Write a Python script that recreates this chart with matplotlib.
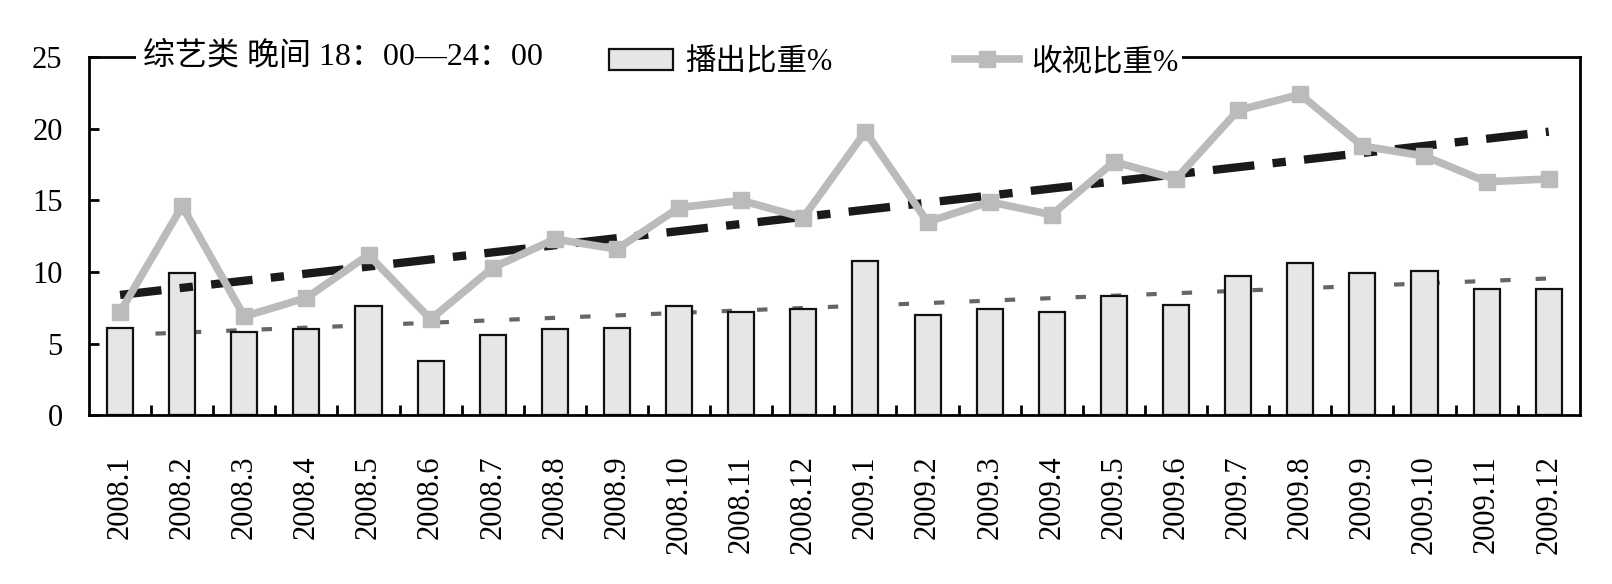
import matplotlib
matplotlib.use("Agg")
import matplotlib.pyplot as plt
import numpy as np

plt.rcParams['font.family'] = ['Liberation Serif', 'Noto Sans CJK SC']

months = ["2008.1", "2008.2", "2008.3", "2008.4", "2008.5", "2008.6",
          "2008.7", "2008.8", "2008.9", "2008.10", "2008.11", "2008.12",
          "2009.1", "2009.2", "2009.3", "2009.4", "2009.5", "2009.6",
          "2009.7", "2009.8", "2009.9", "2009.10", "2009.11", "2009.12"]
broadcast = [6.1, 9.9, 5.8, 6.0, 7.6, 3.8, 5.6, 6.0, 6.1, 7.6, 7.2, 7.4,
             10.8, 7.0, 7.4, 7.2, 8.3, 7.7, 9.7, 10.6, 9.9, 10.1, 8.8, 8.8]
viewing = [7.2, 14.6, 6.9, 8.2, 11.2, 6.7, 10.3, 12.3, 11.6, 14.5, 15.0, 13.8,
           19.8, 13.5, 14.9, 14.0, 17.7, 16.5, 21.3, 22.4, 18.8, 18.1, 16.3, 16.5]
# trend line end values (first and last month)
viewing_trend = [8.4, 19.8]
broadcast_trend = [5.6, 9.55]

title = "综艺类 晚间 18：00—24：00"
bar_label = "播出比重%"
line_label = "收视比重%"

fig = plt.figure(figsize=(16.12, 5.84), dpi=100)
ax = fig.add_axes([0.0552, 0.289, 0.9248, 0.613])

x = np.arange(len(months))
bars = ax.bar(x, broadcast, width=0.42, color="#e6e6e6", edgecolor="#111111",
              linewidth=1.6, zorder=2, label=bar_label)
ax.plot([x[0], x[-1]], broadcast_trend, color="#666666", linewidth=3,
        dashes=(2.5, 6), dash_capstyle="butt", zorder=1)
ax.plot([x[0], x[-1]], viewing_trend, color="#1a1a1a", linewidth=6,
        dashes=(5, 2.2, 1.6, 2.2), dash_capstyle="butt", zorder=4)
line, = ax.plot(x, viewing, color="#bbbbbb", linewidth=5.5, marker="s",
                markersize=12, zorder=5, label=line_label)

ax.set_xlim(-0.5, len(months) - 0.5)
ax.set_ylim(0, 25)
ax.set_yticks([0, 5, 10, 15, 20, 25])
ax.set_xticks(x)
ax.set_xticklabels(months, rotation=90, fontsize=22)
ax.set_xticks(x[:-1] + 0.5, minor=True)
ax.tick_params(axis="x", which="major", length=0, pad=29)
ax.tick_params(axis="x", which="minor", direction="in", length=7, width=2)
ax.tick_params(axis="y", direction="in", length=7, width=2, labelsize=22, pad=19)
for s in ax.spines.values():
    s.set_linewidth(2)

# the title and legend sit on the top border, which is hidden behind them
ax.axhline(25, xmin=0.27, xmax=0.36, color="white", linewidth=5,
           clip_on=False, zorder=5.5)
ax.text(0.37, 25, title, fontsize=23, va="center", ha="left", zorder=6,
        bbox=dict(facecolor="white", edgecolor="none", pad=5))

leg = ax.legend(handles=[bars, line], loc="center", ncol=2,
                bbox_to_anchor=(0.54, 0.985), fontsize=22, frameon=True,
                fancybox=False, edgecolor="none", framealpha=1,
                handlelength=2.1, handletextpad=0.4, columnspacing=4.0,
                borderpad=0.1)
leg.set_zorder(7)

fig.savefig("out.png", dpi=100)
